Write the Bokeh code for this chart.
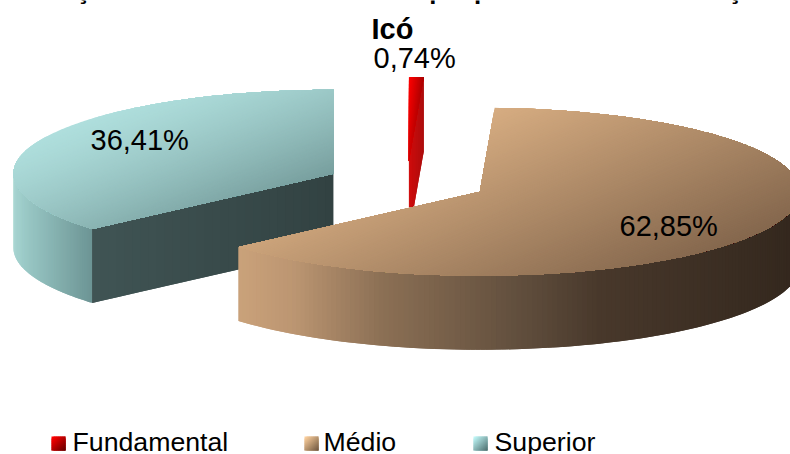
import numpy as np
from bokeh.plotting import figure
from bokeh.models import Range1d
from bokeh.core.properties import value
from bokeh.embed import file_html
from bokeh.resources import INLINE

categories = ["Fundamental", "Médio", "Superior"]
shares = [0.74, 62.85, 36.41]
place_title = "Icó"
title_fragments = ["Formaç", "que p", "formaç"]

W, H = 790, 454
FONT = value("Liberation Sans")
BASE_X, BASE_Y = 406.5, 182.0
RX, RY = 320.0, 84.0
EXPLODE = 0.2526
DEPTH = 74.0


def hexcol(c):
    c = np.clip(np.asarray(c, float), 0, 255).round().astype(int)
    return "#%02x%02x%02x" % tuple(c)


def lerp(a, b, t):
    t = float(np.clip(t, 0, 1))
    return np.asarray(a, float) * (1 - t) + np.asarray(b, float) * t


def stops(x, xs, cols):
    return [np.interp(x, xs, [c[i] for c in cols]) for i in range(3)]


p = figure(width=W, height=H, x_range=Range1d(0, W), y_range=Range1d(H, 0),
           min_border=0, toolbar_location=None, output_backend="svg",
           outline_line_color=None,
           styles={"position": "absolute", "left": "0px", "top": "0px"})
p.axis.visible = False
p.grid.visible = False

# slice angles, clockwise from the top, come from the shares
ang = np.concatenate([[0], np.cumsum(shares) * 3.6])
spans = {c: (ang[i], ang[i + 1]) for i, c in enumerate(categories)}


def centre(a0, a1):
    m = np.radians((a0 + a1) / 2)
    return BASE_X + EXPLODE * RX * np.sin(m), BASE_Y - EXPLODE * RY * np.cos(m)


def rim(cx, cy, deg, r=1.0):
    t = np.radians(deg)
    return cx + r * RX * np.sin(t), cy - r * RY * np.cos(t)


def add_cells(cells):
    xs = [c[0] for c in cells]
    ys = [c[1] for c in cells]
    cols = [c[2] for c in cells]
    p.patches(xs, ys, fill_color=cols, line_color=None)


def clip_above(pts, a, b, level):
    """Part of a polygon where a*x + b*y >= level."""
    out = []
    n = len(pts)
    for i in range(n):
        x0, y0 = pts[i]
        x1, y1 = pts[(i + 1) % n]
        u0, u1 = a * x0 + b * y0 - level, a * x1 + b * y1 - level
        if u0 >= 0:
            out.append((x0, y0))
        if (u0 >= 0) != (u1 >= 0):
            s = u0 / (u0 - u1)
            out.append((x0 + (x1 - x0) * s, y0 + (y1 - y0) * s))
    return out


def top_face(a0, a1, a, b, colour, levels=110):
    # painted as nested bands of a straight gradient a*x + b*y
    cx, cy = centre(a0, a1)
    pts = [(cx, cy)] + [rim(cx, cy, d) for d in np.linspace(a0, a1, 240)]
    uu = [a * q[0] + b * q[1] for q in pts]
    cells = []
    for lv in np.linspace(min(uu), max(uu), levels, endpoint=False):
        poly = clip_above(pts, a, b, lv)
        if len(poly) >= 3:
            cells.append(([q[0] for q in poly], [q[1] for q in poly], hexcol(colour(lv))))
    add_cells(cells)


def outer_wall(a0, a1, colour, n=90):
    cx, cy = centre(*spans_cur)
    cells = []
    aa = np.linspace(a0, a1, n + 1)
    for i in range(n):
        x0, y0 = rim(cx, cy, aa[i])
        x1, y1 = rim(cx, cy, aa[min(i + 2, n)])
        xm = rim(cx, cy, (aa[i] + aa[i + 1]) / 2)[0]
        cells.append(([x0, x1, x1, x0], [y0, y1, y1 + DEPTH, y0 + DEPTH], hexcol(colour(xm))))
    add_cells(cells)


def cut_face(a, a0, a1, colour, n=30):
    cx, cy = centre(a0, a1)
    ox, oy = rim(cx, cy, a)
    cells = []
    for i in range(n):
        u0, u1 = i / n, min((i + 2) / n, 1.0)
        xa, ya = cx + (ox - cx) * u0, cy + (oy - cy) * u0
        xb, yb = cx + (ox - cx) * u1, cy + (oy - cy) * u1
        um = (i + 0.5) / n
        cells.append(([xa, xb, xb, xa], [ya, yb, yb + DEPTH, ya + DEPTH],
                      hexcol(colour(cx + (ox - cx) * um, cy + (oy - cy) * um))))
    add_cells(cells)


# ---- Superior
s0, s1 = spans["Superior"]
spans_cur = (s0, s1)
outer_wall(s0, 270, lambda x: stops(x, [13, 92], [(162, 210, 207), (108, 148, 148)]))
cut_face(s0, s0, s1, lambda x, y: stops(x, [92, 334], [(64, 84, 84), (50, 66, 66)]))
sup_origin = 0.0018 * 60 + 0.0046 * 110
top_face(s0, s1, 0.0018, 0.0046,
         lambda u: lerp((178, 226, 224), (95, 130, 130), max(u - sup_origin, 0) ** 1.4))

# ---- Fundamental
f0, f1 = spans["Fundamental"]
spans_cur = (f0, f1)
fund = lambda x, y: lerp((250, 0, 0), (120, 0, 0),
                         0.045 * (x - 409) + 0.0045 * (y - 80))
cut_face(f1, f0, f1, fund, n=40)
top_face(f0, f1, 0.045, 0.0045, lambda u: lerp((250, 0, 0), (120, 0, 0), u - (0.045 * 409 + 0.0045 * 80)), levels=40)

# ---- Médio
m0, m1 = spans["Médio"]
spans_cur = (m0, m1)
outer_wall(90, m1, lambda x: stops(x, [237, 292, 380, 525, 600, 790],
                                   [(202, 162, 122), (188, 150, 114), (140, 112, 85),
                                    (95, 77, 60), (72, 56, 43), (52, 40, 30)]), n=150)
med_origin = 0.0012 * 400 + 0.0028 * 108
top_face(m0, m1, 0.0012, 0.0028,
         lambda u: lerp((228, 184, 138), (105, 80, 60), u - med_origin), levels=130)


# ---- legend swatches
def swatch(x0, y0, size, c0, c1, n=7):
    cells = []
    d = size / n
    for i in range(n):
        for j in range(n):
            t = (i + j) / (2 * n - 2)
            xa, ya = x0 + i * d, y0 + j * d
            xb = x0 + min(i + 2, n) * d
            yb = y0 + min(j + 2, n) * d
            cells.append(([xa, xb, xb, xa], [ya, ya, yb, yb], hexcol(lerp(c0, c1, t))))
    add_cells(cells)


swatch(51, 436, 14, (255, 0, 0), (110, 0, 0))
swatch(304, 436, 14, (250, 205, 155), (120, 95, 70))
swatch(473, 436, 14, (190, 245, 245), (85, 120, 120))


def txt(x, y, s, size, style="normal"):
    # the baseline of svg text comes out about 0.41 em lower than asked
    p.text([x], [y - 0.41 * size], text=[s], text_font=FONT, text_font_size=f"{size}px",
           text_font_style=style, text_color="#000000",
           text_align="left", text_baseline="alphabetic")


fmt = lambda v: f"{v:.2f}".replace(".", ",") + "%"
txt(373, 69, fmt(shares[0]), 29)
txt(619, 237, fmt(shares[1]), 29)
txt(90, 151, fmt(shares[2]), 29)
txt(371, 40, place_title, 29, "bold")

txt(-4, 0.5, title_fragments[0], 26, "bold")
txt(420, 0.5, title_fragments[1], 26, "bold")
txt(655, 0.5, title_fragments[2], 26, "bold")

txt(72, 452.5, categories[0], 26.7)
txt(323, 452.5, categories[1], 26.7)
txt(494, 452.5, categories[2], 26.7)

open("out.html", "w").write(file_html(p, INLINE))
